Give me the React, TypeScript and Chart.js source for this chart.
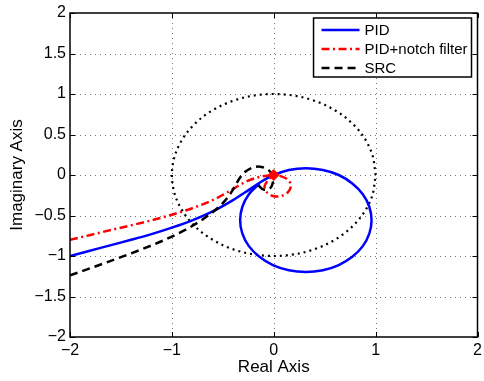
import React, { useEffect, useRef } from "react";
import { Chart, registerables } from "chart.js";

Chart.register(...registerables);

// Axis ticks
const xTicks = [-2, -1, 0, 1, 2];
const yTicks = [-2, -1.5, -1, -0.5, 0, 0.5, 1, 1.5, 2];

// Nyquist curves as [real, imaginary] pairs
const pidCurve: [number, number][] = [
  [-2.0, -1.0], [-1.7, -0.9], [-1.4, -0.8], [-1.2, -0.73], [-1.0, -0.65],
  [-0.8, -0.56], [-0.6, -0.45], [-0.4, -0.31], [-0.24, -0.18], [-0.12, -0.08],
  [0.0, 0.0], [0.148, 0.061], [0.315, 0.083], [0.482, 0.061], [0.638, 0.0],
  [0.771, -0.105], [0.874, -0.238], [0.938, -0.392], [0.96, -0.558],
  [0.938, -0.723], [0.874, -0.878], [0.771, -1.01], [0.638, -1.112],
  [0.482, -1.176], [0.315, -1.198], [0.148, -1.176], [-0.008, -1.112],
  [-0.141, -1.01], [-0.244, -0.878], [-0.308, -0.723], [-0.33, -0.558],
  [-0.308, -0.392], [-0.244, -0.238], [-0.141, -0.105],
];

const notchCurve: [number, number][] = [
  [-2.0, -0.8], [-1.6, -0.68], [-1.2, -0.56], [-1.0, -0.49], [-0.8, -0.41],
  [-0.6, -0.31], [-0.45, -0.21], [-0.3, -0.1], [-0.16, -0.03], [0.0, 0.0],
  [0.08, -0.02], [0.14, -0.06], [0.17, -0.13], [0.14, -0.21], [0.07, -0.26],
  [-0.01, -0.26], [-0.07, -0.21], [-0.09, -0.14], [-0.06, -0.07], [-0.02, -0.02],
];

const srcCurve: [number, number][] = [
  [-2.0, -1.24], [-1.6, -1.06], [-1.2, -0.87], [-1.0, -0.76], [-0.8, -0.63],
  [-0.6, -0.46], [-0.48, -0.32], [-0.4, -0.18], [-0.34, -0.05], [-0.28, 0.04],
  [-0.2, 0.095], [-0.12, 0.1], [-0.05, 0.06], [-0.01, -0.01], [-0.01, -0.1],
  [-0.04, -0.17], [-0.1, -0.18], [-0.15, -0.13],
];

const unitCircle: [number, number][] = [
  [1, 0], [0.966, 0.259], [0.866, 0.5], [0.707, 0.707], [0.5, 0.866],
  [0.259, 0.966], [0, 1], [-0.259, 0.966], [-0.5, 0.866], [-0.707, 0.707],
  [-0.866, 0.5], [-0.966, 0.259], [-1, 0], [-0.966, -0.259], [-0.866, -0.5],
  [-0.707, -0.707], [-0.5, -0.866], [-0.259, -0.966], [0, -1], [0.259, -0.966],
  [0.5, -0.866], [0.707, -0.707], [0.866, -0.5], [0.966, -0.259], [1, 0],
];

const originMarker: [number, number][] = [[0, 0]];

const seriesNames = ["PID", "PID+notch filter", "SRC"];
const seriesColors = ["#0000ff", "#ff0000", "#000000"];
const seriesDashes: number[][] = [[], [8, 3.5, 2, 3.5], [8, 5]];

const FONT = "'Liberation Sans', Arial, Helvetica, sans-serif";

const toPoints = (arr: [number, number][]) => arr.map(([x, y]) => ({ x, y }));
const fmt = (v: number) => String(v).replace("-", "\u2212");

// Grid, boxed axes with inward ticks, and the legend box
const matlabAxes = {
  id: "matlabAxes",
  beforeDatasetsDraw(chart: any) {
    const { ctx, chartArea: a, scales } = chart;
    const sx = scales.x;
    const sy = scales.y;
    ctx.save();
    ctx.strokeStyle = "rgba(0,0,0,0.55)";
    ctx.lineWidth = 1;
    ctx.setLineDash([1, 4]);
    xTicks.slice(1, -1).forEach((v) => {
      const p = Math.round(sx.getPixelForValue(v)) + 0.5;
      ctx.beginPath();
      ctx.moveTo(p, a.top);
      ctx.lineTo(p, a.bottom);
      ctx.stroke();
    });
    yTicks.slice(1, -1).forEach((v) => {
      const p = Math.round(sy.getPixelForValue(v)) + 0.5;
      ctx.beginPath();
      ctx.moveTo(a.left, p);
      ctx.lineTo(a.right, p);
      ctx.stroke();
    });
    ctx.restore();
  },
  afterDatasetsDraw(chart: any) {
    const { ctx, chartArea: a, scales } = chart;
    const sx = scales.x;
    const sy = scales.y;
    ctx.save();
    ctx.strokeStyle = "#000";
    ctx.lineWidth = 1.5;
    ctx.setLineDash([]);
    ctx.strokeRect(a.left, a.top, a.right - a.left, a.bottom - a.top);
    const tl = 5;
    ctx.lineWidth = 1;
    xTicks.forEach((v) => {
      const p = Math.round(sx.getPixelForValue(v)) + 0.5;
      ctx.beginPath();
      ctx.moveTo(p, a.bottom);
      ctx.lineTo(p, a.bottom - tl);
      ctx.moveTo(p, a.top);
      ctx.lineTo(p, a.top + tl);
      ctx.stroke();
    });
    yTicks.forEach((v) => {
      const p = Math.round(sy.getPixelForValue(v)) + 0.5;
      ctx.beginPath();
      ctx.moveTo(a.left, p);
      ctx.lineTo(a.left + tl, p);
      ctx.moveTo(a.right, p);
      ctx.lineTo(a.right - tl, p);
      ctx.stroke();
    });

    // legend
    ctx.font = `15px ${FONT}`;
    const textW = Math.max(...seriesNames.map((n) => ctx.measureText(n).width));
    const sample = 38;
    const padL = 8;
    const gap = 5;
    const padR = 4;
    const rowH = 19;
    const boxW = padL + sample + gap + textW + padR;
    const boxH = rowH * seriesNames.length + 2;
    const bx = a.right - 6 - boxW;
    const by = a.top + 5;
    ctx.fillStyle = "#fff";
    ctx.fillRect(bx, by, boxW, boxH);
    ctx.lineWidth = 1.5;
    ctx.strokeStyle = "#000";
    ctx.strokeRect(bx, by, boxW, boxH);
    seriesNames.forEach((name, i) => {
      const cy = by + 12 + i * rowH;
      ctx.save();
      ctx.strokeStyle = seriesColors[i];
      ctx.lineWidth = 2.5;
      ctx.setLineDash(seriesDashes[i]);
      ctx.beginPath();
      ctx.moveTo(bx + padL, cy);
      ctx.lineTo(bx + padL + sample, cy);
      ctx.stroke();
      ctx.restore();
      ctx.fillStyle = "#000";
      ctx.textAlign = "left";
      ctx.textBaseline = "middle";
      ctx.fillText(name, bx + padL + sample + gap, cy + 1);
    });
    ctx.restore();
  },
};

export default function App() {
  const canvasRef = useRef<HTMLCanvasElement | null>(null);

  useEffect(() => {
    const canvas = canvasRef.current;
    if (!canvas) return;
    Chart.defaults.font.family = FONT;
    Chart.defaults.color = "#000";

    const lineSet = (label: string, data: [number, number][], color: string, dash: number[], order: number, width = 2.5) => ({
      label,
      data: toPoints(data),
      showLine: true,
      borderColor: color,
      backgroundColor: color,
      borderWidth: width,
      borderDash: dash,
      pointRadius: 0,
      pointHoverRadius: 0,
      tension: 0.33,
      fill: false,
      order,
    });

    const chart = new Chart(canvas, {
      type: "scatter",
      data: {
        datasets: [
          lineSet("unit circle", unitCircle, "#000000", [2, 4], 5, 2.2),
          lineSet(seriesNames[0], pidCurve, seriesColors[0], seriesDashes[0], 4),
          lineSet(seriesNames[1], notchCurve, seriesColors[1], seriesDashes[1], 3),
          lineSet(seriesNames[2], srcCurve, seriesColors[2], seriesDashes[2], 2),
          {
            label: "origin",
            data: toPoints(originMarker),
            showLine: false,
            pointStyle: "rectRot",
            pointRadius: 5.5,
            pointBackgroundColor: "#ff0000",
            pointBorderColor: "#ff0000",
            pointBorderWidth: 1,
            order: 0,
          },
        ],
      },
      options: {
        animation: false,
        responsive: false,
        devicePixelRatio: 1,
        events: [],
        layout: { padding: { top: 13, right: 3, left: 0, bottom: 0 } },
        plugins: {
          legend: { display: false },
          tooltip: { enabled: false },
          title: { display: false },
        },
        scales: {
          x: {
            type: "linear",
            min: -2,
            max: 2,
            afterBuildTicks: (s: any) => {
              s.ticks = xTicks.map((v) => ({ value: v }));
            },
            ticks: {
              autoSkip: false,
              maxRotation: 0,
              padding: 4,
              font: { size: 16 },
              color: "#000",
              callback: (v: any) => fmt(Number(v)),
            },
            grid: { display: false, drawTicks: false },
            border: { display: false },
            title: {
              display: true,
              text: "Real Axis",
              font: { size: 17 },
              color: "#000",
              padding: { top: 0, bottom: 3 },
            },
            afterFit: (s: any) => {
              s.height = 44;
              s.paddingLeft = 0;
              s.paddingRight = 0;
            },
          },
          y: {
            type: "linear",
            min: -2,
            max: 2,
            afterBuildTicks: (s: any) => {
              s.ticks = yTicks.map((v) => ({ value: v }));
            },
            ticks: {
              autoSkip: false,
              padding: 4,
              font: { size: 16 },
              color: "#000",
              callback: (v: any) => fmt(Number(v)),
            },
            grid: { display: false, drawTicks: false },
            border: { display: false },
            title: {
              display: true,
              text: "Imaginary Axis",
              font: { size: 17 },
              color: "#000",
              padding: { top: 7, bottom: 0 },
            },
            afterFit: (s: any) => {
              s.width = 70;
              s.paddingTop = 0;
              s.paddingBottom = 0;
            },
          },
        },
      },
      plugins: [matlabAxes],
    });

    return () => chart.destroy();
  }, []);

  return (
    <div style={{ position: "fixed", left: 0, top: 0, width: 484, height: 381, background: "#fff" }}>
      <canvas ref={canvasRef} width={484} height={381} style={{ display: "block" }} />
    </div>
  );
}
